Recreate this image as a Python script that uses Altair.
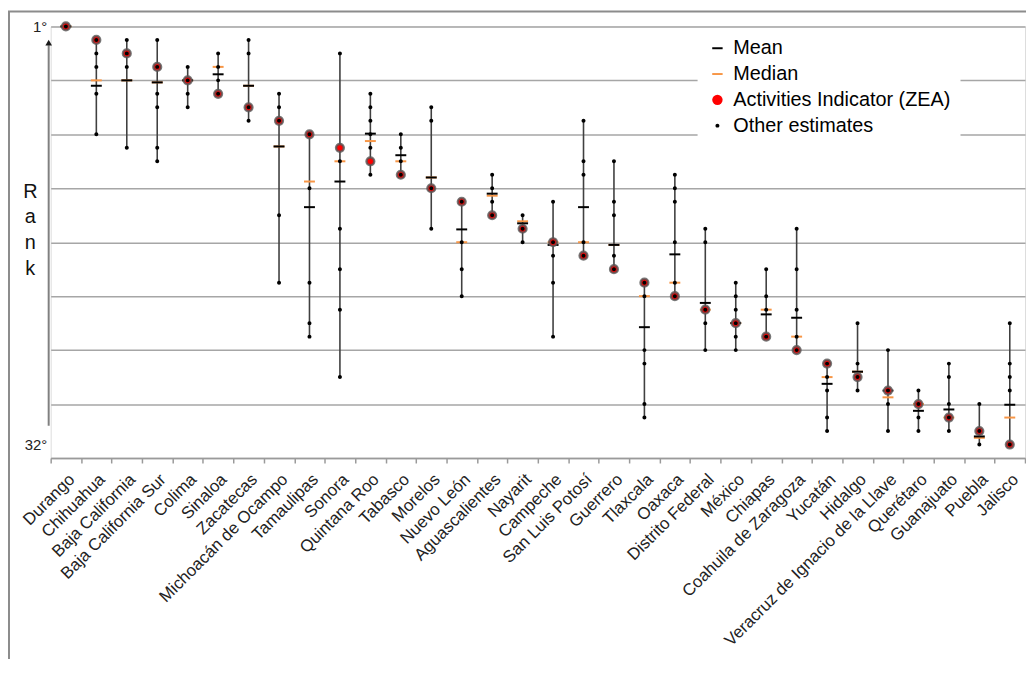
import altair as alt
import pandas as pd

states = ["Durango", "Chihuahua", "Baja California", "Baja California Sur", "Colima",
          "Sinaloa", "Zacatecas", "Michoacán de Ocampo", "Tamaulipas", "Sonora",
          "Quintana Roo", "Tabasco", "Morelos", "Nuevo León", "Aguascalientes",
          "Nayarit", "Campeche", "San Luis Potosí", "Guerrero", "Tlaxcala", "Oaxaca",
          "Distrito Federal", "México", "Chiapas", "Coahuila de Zaragoza", "Yucatán",
          "Hidalgo", "Veracruz de Ignacio de la Llave", "Querétaro", "Guanajuato",
          "Puebla", "Jalisco"]

zea_rank = [1, 2, 3, 4, 5, 6, 7, 8, 9, 10, 11, 12, 13, 14, 15, 16,
            17, 18, 19, 20, 21, 22, 23, 24, 25, 26, 27, 28, 29, 30, 31, 32]

mean_rank = [1, 5.4, 5.0, 5.15, 5, 4.55, 5.4, 9.9, 14.4, 12.5, 8.95, 10.55, 12.2, 16.05,
             13.4, 15.6, 17.2, 14.4, 17.2, 23.3, 17.9, 21.5, 23, 22.35, 22.6, 27.5,
             26.6, 28, 29.5, 29.4, 31.4, 29.05]

median_rank = [1, 5.0, 5.0, 5.15, 5, 4.0, 5.4, 9.9, 12.5, 11.0, 9.5, 11.0, 12.2, 17.0,
               13.55, 15.45, 17, 17.0, 17.2, 21.0, 20.0, 22, 23, 22.0, 24.0, 27.0,
               26.6, 28.5, 29, 30, 31.5, 30.0]

other_ranks = [
    [1], [2, 3, 4, 6, 9], [2, 3, 4, 10], [2, 4, 6, 7, 10, 11], [4, 5, 6, 7],
    [3, 4, 5, 6], [2, 3, 7, 8], [6, 7, 8, 15, 20], [9, 13, 20, 23, 24],
    [3, 11, 16, 19, 22, 27], [6, 7, 8, 9, 10, 12], [9, 10, 11, 12], [7, 8, 13, 16],
    [14, 17, 19, 21], [12, 13, 14, 15], [15, 16, 17], [14, 17, 18, 20, 24],
    [8, 11, 12, 17, 18], [11, 14, 15, 18, 19], [20, 21, 25, 26, 29, 30],
    [12, 13, 14, 17, 20, 21], [16, 17, 22, 23, 25], [20, 21, 22, 23, 24, 25],
    [19, 21, 22, 24], [16, 19, 22, 24, 25], [26, 27, 28, 30, 31], [23, 26, 27, 28],
    [25, 28, 29, 31], [28, 29, 30, 31], [26, 27, 29, 30, 31], [29, 31, 32],
    [23, 26, 27, 28, 32]]

series_names = ["Mean", "Median", "Activities Indicator (ZEA)", "Other estimates"]
series_colors = ["#000000", "#F79646", "#FF0000", "#000000"]
dash_path = "M-1,-0.19L1,-0.19L1,0.19L-1,0.19Z"
dot_path = "M0.38,0A0.38,0.38 0 1,1 -0.38,0A0.38,0.38 0 1,1 0.38,0Z"
series_shapes = [dash_path, dash_path, "circle", dot_path]

summary = pd.DataFrame({"state": states, "zea": zea_rank, "mean": mean_rank,
                        "median": median_rank})
summary["lo"] = [min(o + [z]) for o, z in zip(other_ranks, zea_rank)]
summary["hi"] = [max(o + [z]) for o, z in zip(other_ranks, zea_rank)]

others = pd.DataFrame([{"state": s, "rank": r, "series": "Other estimates"}
                       for s, rs in zip(states, other_ranks) for r in rs])

FONT = "Liberation Sans"

x_axis = alt.Axis(title=None, tickBand="extent", labelAngle=-45, labelAlign="right",
                  labelBaseline="top", labelPadding=8, tickSize=5, tickColor="#9a9a9a",
                  tickWidth=1.5, domainColor="#9a9a9a", domainWidth=1.5,
                  labelFontSize=17, labelColor="#222222", labelLimit=400,
                  labelOverlap=False, grid=False, labelFont=FONT)
x_scale = alt.Scale(domain=states, paddingInner=0, paddingOuter=0)

y_scale = alt.Scale(domain=[1, 33], reverse=True, nice=False, zero=False)
y_axis = alt.Axis(values=[1, 5, 9, 13, 17, 21, 25, 29, 32, 33],
                  labelExpr="datum.value === 1 ? '1°' : (datum.value === 32 ? '32°' : '')",
                  ticks=False, domain=False, grid=True, gridColor="#a6a6a6", gridWidth=1.5,
                  gridOpacity={"condition": {"test": "datum.value === 32", "value": 0}, "value": 1},
                  labelFontSize=15, labelColor="#222222", labelPadding=4, labelFont=FONT,
                  title=["R", "a", "n", "k"], titleAngle=0, titleX=-21, titleY=156,
                  titleAlign="center", titleBaseline="top", titleFontSize=20,
                  titleFontWeight="normal", titleLineHeight=26, titleColor="#111111",
                  titleFont=FONT)


def xenc():
    return alt.X("state:N", scale=x_scale, axis=x_axis, title=None)


def yenc(field):
    return alt.Y(field, type="quantitative", scale=y_scale, axis=y_axis,
                 title=["R", "a", "n", "k"])


base = alt.Chart(summary)

whiskers = base.mark_rule(color="#404040", strokeWidth=1.6).encode(
    x=xenc(), y=yenc("lo"), y2="hi")

medians = base.mark_tick(color="#F79646", thickness=2, size=11, opacity=1).encode(
    x=xenc(), y=yenc("median"))

means = base.mark_tick(color="#000000", thickness=2, size=11, opacity=1).encode(
    x=xenc(), y=yenc("mean"))

zea = base.mark_point(filled=True, fill="#FF0000", stroke="#555555", strokeOpacity=0.8,
                      strokeWidth=2.5, size=60, opacity=1, shape="circle").encode(
    x=xenc(), y=yenc("zea"))

legend = alt.Legend(orient="none", legendX=652, legendY=2, title=None,
                    labelFontSize=20, labelColor="#000000", labelLimit=400,
                    labelFont=FONT, fillColor="white", padding=10, rowPadding=6,
                    symbolSize=110, symbolStrokeWidth=0, labelOffset=6)

dots = alt.Chart(others).mark_point(filled=True, size=110, opacity=1, strokeWidth=0).encode(
    x=xenc(), y=yenc("rank"),
    color=alt.Color("series:N", scale=alt.Scale(domain=series_names, range=series_colors),
                    legend=legend),
    shape=alt.Shape("series:N", scale=alt.Scale(domain=series_names, range=series_shapes),
                    legend=legend))

arrow_df = pd.DataFrame({"lo": [30.6], "hi": [2.4], "tip": [2.2]})
arrow_line = alt.Chart(arrow_df).mark_rule(color="#808080", strokeWidth=2).encode(
    x=alt.value(-2), y=yenc("lo"), y2="hi")
arrow_head = alt.Chart(arrow_df).mark_point(shape="triangle-up", filled=True, size=45,
                                             color="#1a1a1a", opacity=1).encode(
    x=alt.value(-2), y=yenc("tip"))

frame = alt.Chart(pd.DataFrame({"f": [0]})).mark_rect(
    filled=False, stroke="#8c8c8c", strokeWidth=2).encode(
    x=alt.value(-42), x2=alt.value(1500), y=alt.value(-15), y2=alt.value(1000))

chart = alt.layer(frame, whiskers, medians, means, zea, dots, arrow_line, arrow_head).properties(
    width=982, height=435,
    padding={"left": 43, "top": 16, "right": 1, "bottom": 200},
    autosize=alt.AutoSizeParams(type="none"),
).configure_view(strokeWidth=0).configure(font=FONT)

chart.save("out.html", embed_options={"renderer": "svg", "actions": False})
